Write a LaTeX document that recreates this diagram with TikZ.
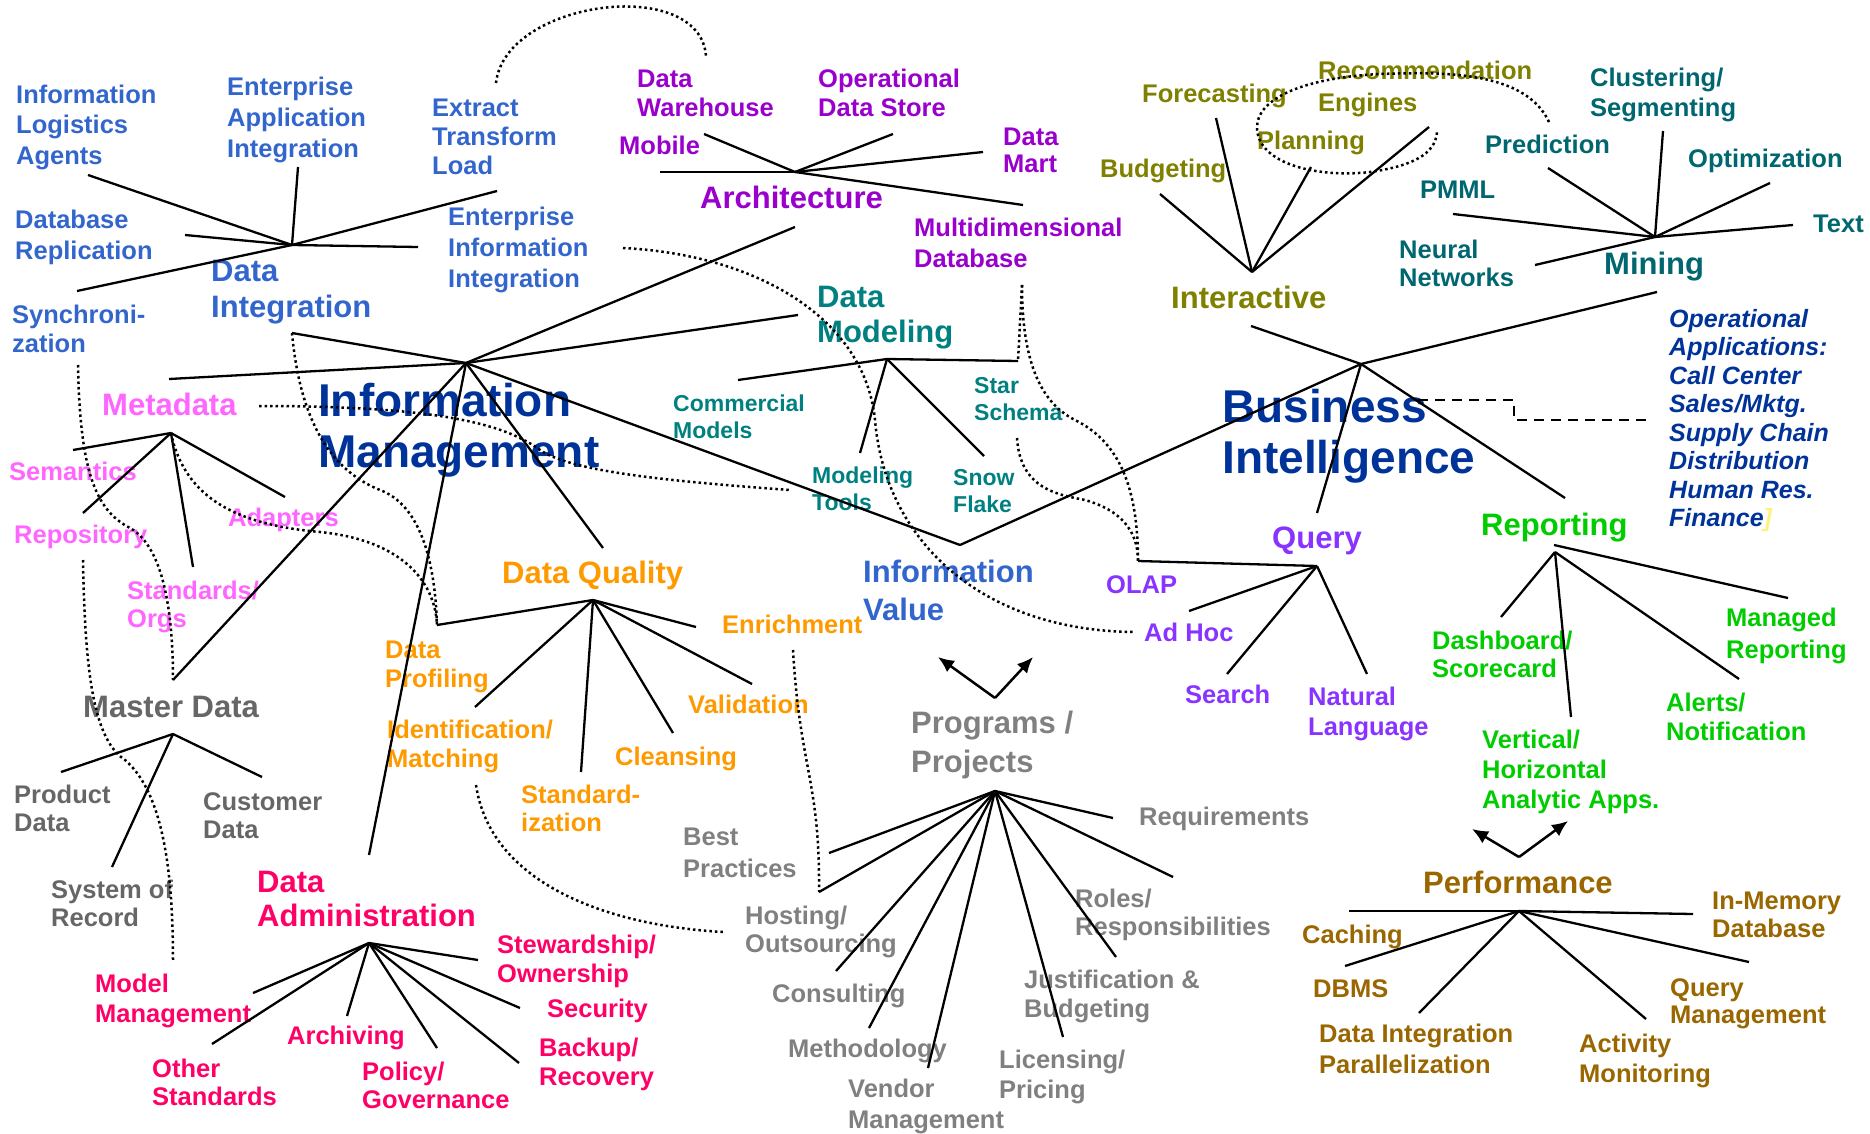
\documentclass[tikz,border=0pt]{standalone}
\usepackage{fontspec}
\setmainfont{Liberation Sans}
\usetikzlibrary{arrows.meta}
\definecolor{imblue}{RGB}{0,51,153}
\definecolor{diblue}{RGB}{51,102,204}
\definecolor{archpurple}{RGB}{153,0,204}
\definecolor{dmteal}{RGB}{0,128,128}
\definecolor{mnteal}{RGB}{0,102,112}
\definecolor{mdpink}{RGB}{255,102,255}
\definecolor{msgray}{RGB}{102,102,102}
\definecolor{pggray}{RGB}{128,128,128}
\definecolor{dared}{RGB}{255,0,102}
\definecolor{dqorange}{RGB}{255,153,0}
\definecolor{intolive}{RGB}{128,128,0}
\definecolor{qviolet}{RGB}{136,51,255}
\definecolor{rpgreen}{RGB}{0,204,0}
\definecolor{pfbrown}{RGB}{153,102,0}
\definecolor{pale}{RGB}{255,240,130}
\tikzset{
    % text styles (anchored at the baseline of the last line)
    leaf/.style={anchor=base west, inner sep=0pt, align=left,
        font=\fontsize{25.5}{#1}\selectfont\bfseries},
    leaf/.default=31,
    smallleaf/.style={anchor=base west, inner sep=0pt, align=left,
        font=\fontsize{23}{27.5}\selectfont\bfseries},
    topic/.style={anchor=base west, inner sep=0pt, align=left,
        font=\fontsize{31}{#1}\selectfont\bfseries},
    topic/.default=36,
    mainlabel/.style={anchor=base west, inner sep=0pt, align=left,
        font=\fontsize{46}{51}\selectfont\bfseries, text=imblue},
    % connector styles
    branch/.style={line width=2.3pt},
    dotlink/.style={line width=2.5pt, dash pattern=on 2.5pt off 3pt},
    dashlink/.style={line width=2.5pt, dash pattern=on 10pt off 7pt},
    pointer/.style={line width=2.5pt, -{Latex[length=16pt,width=14pt]}},
}
\begin{document}
\begin{tikzpicture}[x=1pt,y=-1pt]
\useasboundingbox (0,0) rectangle (1870,1134);

% main hubs
\coordinate (imhub) at (466,363);
\coordinate (bihub) at (1361,364);
\coordinate (iv-t) at (960,545);
\node[mainlabel] (im) at (318,467) {Information\\Management};
\node[mainlabel] (bi) at (1222,473) {Business\\Intelligence};

% Data Integration
\node[topic,text=diblue] (di) at (211,317) {Data\\Integration};
\node[leaf,text=diblue] (ila) at (16,165) {Information\\Logistics\\Agents};
\node[leaf,text=diblue] (eai) at (227,158) {Enterprise\\Application\\Integration};
\node[leaf=29,text=diblue] (etl) at (432,175) {Extract\\Transform\\Load};
\node[leaf,text=diblue] (eii) at (448,287) {Enterprise\\Information\\Integration};
\node[leaf,text=diblue] (dbr) at (15,259) {Database\\Replication};
\node[leaf=29,text=diblue] (syn) at (12,352) {Synchroni-\\zation};
\coordinate (dihub) at (292,245);
\coordinate (di-in) at (292,333);
\coordinate (ila-e) at (88,175);
\coordinate (dbr-e) at (185,235);
\coordinate (eai-e) at (298,167);
\coordinate (eii-e) at (418,247);
\coordinate (syn-e) at (77,291);
\coordinate (etl-e) at (497,191);
\foreach \e in {ila-e,dbr-e,eai-e,eii-e,syn-e,etl-e}
    \draw[branch] (dihub) -- (\e);

% Architecture
\node[topic,text=archpurple] (arch) at (700,208) {Architecture};
\node[leaf=29,text=archpurple] (dw) at (637,117) {Data\\Warehouse};
\node[leaf=29,text=archpurple] (ods) at (818,117) {Operational\\Data Store};
\node[leaf,text=archpurple] (mob) at (619,155) {Mobile};
\node[leaf=28,text=archpurple] (dmart) at (1003,173) {Data\\Mart};
\node[leaf,text=archpurple] (mdd) at (914,267) {Multidimensional\\Database};
\coordinate (archhub) at (795,172);
\coordinate (arch-in) at (795,227);
\coordinate (mob-e) at (660,172);
\coordinate (dw-e) at (704,134);
\coordinate (ods-e) at (893,134);
\coordinate (dmart-e) at (983,152);
\coordinate (mdd-e) at (1023,205);
\foreach \e in {mob-e,dw-e,ods-e,dmart-e,mdd-e}
    \draw[branch] (archhub) -- (\e);

% Data Modeling
\node[topic=35,text=dmteal] (dmod) at (817,342) {Data\\Modeling};
\node[smallleaf,text=dmteal] (cm) at (673,438.5) {Commercial\\Models};
\node[smallleaf,text=dmteal] (mt) at (812,510.5) {Modeling\\Tools};
\node[smallleaf,text=dmteal] (ss) at (974,420.5) {Star\\Schema};
\node[smallleaf,text=dmteal] (sf) at (953,512.5) {Snow\\Flake};
\coordinate (dmhub) at (887,359);
\coordinate (dm-in) at (798,315);
\coordinate (cm-e) at (738,380);
\coordinate (ss-e) at (1018,361);
\coordinate (mt-e) at (860,453);
\coordinate (sf-e) at (984,456);
\foreach \e in {cm-e,ss-e,mt-e,sf-e}
    \draw[branch] (dmhub) -- (\e);

% Metadata
\node[topic,text=mdpink] (md) at (102,415) {Metadata};
\node[leaf,text=mdpink] (sem) at (9,480) {Semantics};
\node[leaf,text=mdpink] (rep) at (14,543) {Repository};
\node[leaf=28,text=mdpink] (std) at (127,627) {Standards/\\Orgs};
\node[leaf,text=mdpink] (adp) at (228,526) {Adapters};
\coordinate (mdhub) at (171,433);
\coordinate (md-in) at (169,379);
\coordinate (sem-e) at (73,450);
\coordinate (rep-e) at (83,513);
\coordinate (std-e) at (193,567);
\coordinate (adp-e) at (285,497);
\foreach \e in {sem-e,rep-e,std-e,adp-e}
    \draw[branch] (mdhub) -- (\e);

% Master Data
\node[topic,text=msgray] (mst) at (83,717) {Master Data};
\node[leaf=28,text=msgray] (pd) at (14,831) {Product\\Data};
\node[leaf=28,text=msgray] (cd) at (203,838) {Customer\\Data};
\node[leaf=28,text=msgray] (sor) at (51,926) {System of\\Record};
\coordinate (mshub) at (173,734);
\coordinate (ms-in) at (173,680);
\coordinate (pd-e) at (61,772);
\coordinate (sor-e) at (112,867);
\coordinate (cd-e) at (262,777);
\foreach \e in {pd-e,sor-e,cd-e}
    \draw[branch] (mshub) -- (\e);

% Data Administration
\node[topic=34,text=dared] (da) at (257,926) {Data\\Administration};
\node[leaf=30,text=dared] (mm) at (95,1022) {Model\\Management};
\node[leaf=28,text=dared] (os) at (152,1105) {Other\\Standards};
\node[leaf,text=dared] (arc) at (287,1044) {Archiving};
\node[leaf=28,text=dared] (pg) at (362,1108) {Policy/\\Governance};
\node[leaf=29,text=dared] (sw) at (497,982) {Stewardship/\\Ownership};
\node[leaf,text=dared] (sec) at (547,1017) {Security};
\node[leaf=29,text=dared] (br) at (539,1085) {Backup/\\Recovery};
\coordinate (dahub) at (369,943);
\coordinate (da-in) at (369,855);
\coordinate (mm-e) at (253,993);
\coordinate (os-e) at (212,1044);
\coordinate (arc-e) at (347,1016);
\coordinate (pg-e) at (437,1048);
\coordinate (sw-e) at (478,960);
\coordinate (sec-e) at (520,1008);
\coordinate (br-e) at (519,1063);
\foreach \e in {mm-e,os-e,arc-e,pg-e,sw-e,sec-e,br-e}
    \draw[branch] (dahub) -- (\e);

% Data Quality
\node[topic,text=dqorange] (dq) at (502,583) {Data Quality};
\node[leaf=29,text=dqorange] (dp) at (385,687) {Data\\Profiling};
\node[leaf=29,text=dqorange] (idm) at (387,767) {Identification/\\Matching};
\node[leaf=28,text=dqorange] (stz) at (521,831) {Standard-\\ization};
\node[leaf,text=dqorange] (cln) at (615,765) {Cleansing};
\node[leaf,text=dqorange] (val) at (688,713) {Validation};
\node[leaf,text=dqorange] (enr) at (722,633) {Enrichment};
\coordinate (dqhub) at (593,600);
\coordinate (dq-in) at (603,548);
\coordinate (dp-e) at (437,625);
\coordinate (idm-e) at (475,707);
\coordinate (stz-e) at (581,772);
\coordinate (cln-e) at (673,733);
\coordinate (val-e) at (752,684);
\coordinate (enr-e) at (696,627);
\foreach \e in {dp-e,idm-e,stz-e,cln-e,val-e,enr-e}
    \draw[branch] (dqhub) -- (\e);

% Information Value
\node[topic=38,text=diblue] (iv) at (863,620) {Information\\Value};

% Programs / Projects
\node[topic=39,text=pggray] (pp) at (911,772) {Programs /\\Projects};
\node[leaf=32,text=pggray] (bp) at (683,877) {Best\\Practices};
\node[leaf=28,text=pggray] (ho) at (745,952) {Hosting/\\Outsourcing};
\node[leaf,text=pggray] (con) at (772,1002) {Consulting};
\node[leaf,text=pggray] (met) at (788,1057) {Methodology};
\node[leaf,text=pggray] (vm) at (848,1128) {Vendor\\Management};
\node[leaf=30,text=pggray] (lp) at (999,1098) {Licensing/\\Pricing};
\node[leaf=29,text=pggray] (jb) at (1024,1017) {Justification \&\\Budgeting};
\node[leaf=28,text=pggray] (rr) at (1075,935) {Roles/\\Responsibilities};
\node[leaf,text=pggray] (req) at (1139,825) {Requirements};
\coordinate (pphub) at (995,791);
\coordinate (bp-e) at (829,853);
\coordinate (ho-e) at (819,892);
\coordinate (con-e) at (836,971);
\coordinate (met-e) at (869,1028);
\coordinate (vm-e) at (928,1068);
\coordinate (lp-e) at (1063,1037);
\coordinate (jb-e) at (1116,957);
\coordinate (rr-e) at (1173,877);
\coordinate (req-e) at (1113,818);
\foreach \e in {bp-e,ho-e,con-e,met-e,vm-e,lp-e,jb-e,rr-e,req-e}
    \draw[branch] (pphub) -- (\e);
\coordinate (pp-up) at (995,698);
\coordinate (pp-l) at (938,657);
\coordinate (pp-r) at (1033,657);
\draw[pointer] (pp-up) -- (pp-l);
\draw[pointer] (pp-up) -- (pp-r);

% Interactive
\node[topic,text=intolive] (int) at (1171,308) {Interactive};
\node[leaf,text=intolive] (bud) at (1100,178) {Budgeting};
\node[leaf,text=intolive] (fc) at (1142,103) {Forecasting};
\node[leaf,text=intolive] (pl) at (1257,150) {Planning};
\node[leaf=32,text=intolive] (re) at (1318,112) {Recommendation\\Engines};
\coordinate (inthub) at (1252,272);
\coordinate (int-out) at (1251,326);
\coordinate (bud-e) at (1160,194);
\coordinate (fc-e) at (1216,118);
\coordinate (pl-e) at (1311,167);
\coordinate (re-e) at (1429,127);
\foreach \e in {bud-e,fc-e,pl-e,re-e}
    \draw[branch] (inthub) -- (\e);
\coordinate (loop-a) at (1549,122);
\coordinate (loop-b) at (1437,130);
\draw[dotlink] (loop-a) .. controls (1525,70) and (1440,72) .. (1380,74)
    .. controls (1300,78) and (1257,100) .. (1257,127)
    .. controls (1257,165) and (1320,178) .. (1370,172)
    .. controls (1420,165) and (1437,150) .. (loop-b);

% Mining
\node[topic,text=mnteal] (mn) at (1604,274) {Mining};
\node[leaf,text=mnteal] (pmml) at (1420,199) {PMML};
\node[leaf,text=mnteal] (pred) at (1485,154) {Prediction};
\node[leaf=30,text=mnteal] (cs) at (1590,117) {Clustering/\\Segmenting};
\node[leaf,text=mnteal] (opt) at (1688,168) {Optimization};
\node[leaf,text=mnteal] (txt) at (1813,232) {Text};
\node[leaf=28,text=mnteal] (nn) at (1399,286) {Neural\\Networks};
\coordinate (mnhub) at (1655,237);
\coordinate (mn-out) at (1657,292);
\coordinate (pmml-e) at (1453,214);
\coordinate (pred-e) at (1548,168);
\coordinate (cs-e) at (1663,131);
\coordinate (opt-e) at (1770,183);
\coordinate (txt-e) at (1793,225);
\coordinate (nn-e) at (1535,265);
\foreach \e in {pmml-e,pred-e,cs-e,opt-e,txt-e,nn-e}
    \draw[branch] (mnhub) -- (\e);

% Query
\node[topic,text=qviolet] (q) at (1272,548) {Query};
\node[leaf,text=qviolet] (olap) at (1106,593) {OLAP};
\node[leaf,text=qviolet] (ah) at (1144,641) {Ad Hoc};
\node[leaf,text=qviolet] (sea) at (1185,703) {Search};
\node[leaf=30,text=qviolet] (nl) at (1308,735) {Natural\\Language};
\coordinate (qhub) at (1317,566);
\coordinate (q-in) at (1317,513);
\coordinate (olap-e) at (1138,561);
\coordinate (ah-e) at (1189,611);
\coordinate (sea-e) at (1227,674);
\coordinate (nl-e) at (1367,674);
\foreach \e in {olap-e,ah-e,sea-e,nl-e}
    \draw[branch] (qhub) -- (\e);

% Reporting
\node[topic,text=rpgreen] (rp) at (1481,535) {Reporting};
\node[leaf=28,text=rpgreen] (db) at (1432,677) {Dashboard/\\Scorecard};
\node[leaf=30,text=rpgreen] (vh) at (1482,808) {Vertical/\\Horizontal\\Analytic Apps.};
\node[leaf=32,text=rpgreen] (mr) at (1726,658) {Managed\\Reporting};
\node[leaf=29,text=rpgreen] (an) at (1666,740) {Alerts/\\Notification};
\coordinate (rphub) at (1555,552);
\coordinate (rp-in) at (1565,498);
\coordinate (rp-top) at (1554,545);
\coordinate (db-e) at (1501,617);
\coordinate (vh-e) at (1571,717);
\coordinate (mr-e) at (1788,598);
\coordinate (an-e) at (1739,679);
\foreach \e in {db-e,vh-e,an-e}
    \draw[branch] (rphub) -- (\e);
\draw[branch] (rp-top) -- (mr-e);
\coordinate (pf-up) at (1519,857);
\coordinate (pf-l) at (1472,829);
\coordinate (pf-r) at (1568,821);
\draw[pointer] (pf-up) -- (pf-l);
\draw[pointer] (pf-up) -- (pf-r);

% Performance
\node[topic,text=pfbrown] (pf) at (1423,893) {Performance};
\node[leaf,text=pfbrown] (cac) at (1302,943) {Caching};
\node[leaf,text=pfbrown] (dbms) at (1313,997) {DBMS};
\node[leaf,text=pfbrown] (dip) at (1319,1073) {Data Integration\\Parallelization};
\node[leaf=28,text=pfbrown] (imd) at (1712,937) {In-Memory\\Database};
\node[leaf=27,text=pfbrown] (qm) at (1670,1023) {Query\\Management};
\node[leaf=30,text=pfbrown] (am) at (1579,1082) {Activity\\Monitoring};
\coordinate (pfhub) at (1519,911);
\coordinate (cac-e) at (1349,911);
\coordinate (dbms-e) at (1345,966);
\coordinate (dip-e) at (1419,1013);
\coordinate (imd-e) at (1693,914);
\coordinate (qm-e) at (1749,962);
\coordinate (am-e) at (1646,1019);
\foreach \e in {cac-e,dbms-e,dip-e,imd-e,qm-e,am-e}
    \draw[branch] (pfhub) -- (\e);

% Operational applications
\node[anchor=base west, inner sep=0pt, align=left,
      font=\fontsize{25}{28.5}\selectfont\bfseries\itshape, text=imblue] (oa)
      at (1669,526.5) {Operational\\Applications:\\Call Center\\Sales/Mktg.\\Supply Chain\\Distribution\\Human Res.\\Finance{\color{pale}]}};
\coordinate (oa-s) at (1418,400);
\coordinate (oa-k1) at (1514,400);
\coordinate (oa-k2) at (1514,420);
\coordinate (oa-e) at (1648,420);
\draw[dashlink] (oa-s) -- (oa-k1) -- (oa-k2) -- (oa-e);

% domain branches
\foreach \e in {di-in,md-in,arch-in,dm-in,iv-t,dq-in,da-in,ms-in}
    \draw[branch] (imhub) -- (\e);
\foreach \e in {int-out,mn-out,q-in,rp-in,iv-t}
    \draw[branch] (bihub) -- (\e);

% dotted cross links
\coordinate (etl-t) at (496,83);
\coordinate (dw-t) at (706,56);
\draw[dotlink] (etl-t) .. controls (505,0) and (700,-25) .. (dw-t);
\draw[dotlink] (di-in) .. controls (300,420) and (330,470) .. (380,490)
    .. controls (420,505) and (435,560) .. (dp-e);
\coordinate (syn-b) at (78,365);
\draw[dotlink] (syn-b) .. controls (80,470) and (95,510) .. (130,528)
    .. controls (160,545) and (173,600) .. (ms-in);
\coordinate (rep-b) at (83,560);
\coordinate (mm-t) at (173,960);
\draw[dotlink] (rep-b) .. controls (85,680) and (95,740) .. (125,760)
    .. controls (160,790) and (173,860) .. (mm-t);
\coordinate (md-r) at (259,406);
\coordinate (mt-w) at (790,490);
\draw[dotlink] (md-r) .. controls (420,406) and (500,420) .. (540,450)
    .. controls (570,470) and (650,480) .. (mt-w);
\draw[dotlink] (mdhub) .. controls (185,500) and (240,525) .. (320,532)
    .. controls (400,540) and (435,580) .. (dp-e);
\coordinate (enr-b) at (793,650);
\draw[dotlink] (enr-b) .. controls (800,770) and (820,780) .. (ho-e);
\coordinate (idm-b) at (476,785);
\coordinate (ho-w) at (723,932);
\draw[dotlink] (idm-b) .. controls (490,880) and (600,925) .. (ho-w);
\coordinate (eii-r) at (623,248);
\coordinate (ah-w) at (1133,632);
\draw[dotlink] (eii-r) .. controls (760,255) and (865,320) .. (875,420)
    .. controls (885,540) and (980,630) .. (ah-w);
\coordinate (ss-b) at (1017,438);
\draw[dotlink] (ss-b) .. controls (1020,490) and (1060,495) .. (1085,500)
    .. controls (1120,510) and (1138,530) .. (olap-e);
\coordinate (mdd-b) at (1022,285);
\draw[dotlink] (mdd-b) .. controls (1022,350) and (1035,400) .. (1075,420)
    .. controls (1115,440) and (1138,480) .. (olap-e);
\draw[dotlink] (mdd-b) -- (ss-e);
\end{tikzpicture}
\end{document}
